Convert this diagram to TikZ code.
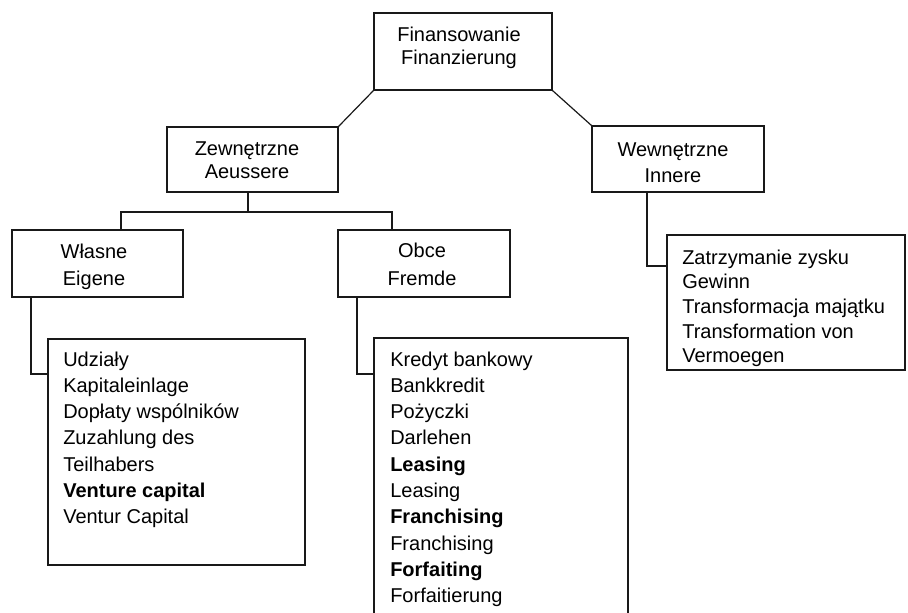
\documentclass[tikz,border=0pt]{standalone}
\usepackage{fontspec}
\setmainfont{Liberation Sans}
\begin{document}
\begin{tikzpicture}[x=0.75pt, y=-0.75pt,
  box/.style={draw=black!90, line width=0.9pt, inner sep=0pt, rectangle},
  conn/.style={draw=black!90, line width=0.9pt},
  lbl/.style={anchor=base, inner sep=0pt, font=\fontsize{15pt}{18pt}\selectfont},
  item/.style={anchor=base west, inner sep=0pt, font=\fontsize{15pt}{18pt}\selectfont}]
\useasboundingbox (0,0) rectangle (908,612);
\clip (0,0) rectangle (908,612);
% boxes
\node[box, minimum width=133.5pt, minimum height=57.75pt] (top) at (463,51.5) {};
\node[box, minimum width=128.25pt, minimum height=48.75pt] (zew) at (252.5,159.5) {};
\node[box, minimum width=129pt, minimum height=49.5pt] (wew) at (678,159) {};
\node[box, minimum width=128.25pt, minimum height=50.25pt] (wl) at (97.5,263.5) {};
\node[box, minimum width=129pt, minimum height=50.25pt] (ob) at (424,263.5) {};
\node[box, minimum width=192.75pt, minimum height=169.5pt] (lc) at (176.5,452) {};
\node[box, minimum width=190.5pt, minimum height=256.5pt] (oc) at (501,509) {};
\node[box, minimum width=178.5pt, minimum height=101.25pt] (wc) at (786,302.5) {};
% box titles
\node[lbl] (t1) at (459,41.7) {Finansowanie};
\node[lbl] (t2) at (459,64.3) {Finanzierung};
\node[lbl] (z1) at (247,155) {Zewnętrzne};
\node[lbl] (z2) at (247,178.3) {Aeussere};
\node[lbl] (w1) at (673,156.7) {Wewnętrzne};
\node[lbl] (w2) at (673,182.7) {Innere};
\node[lbl] (e1) at (94,258.3) {Własne};
\node[lbl] (e2) at (94,285.7) {Eigene};
\node[lbl] (o1) at (422,257.3) {Obce};
\node[lbl] (o2) at (422,285.7) {Fremde};
% content lists
\foreach \t [count=\i] in {Udziały, Kapitaleinlage, Dopłaty wspólników, Zuzahlung des, Teilhabers, \textbf{Venture capital}, Ventur Capital}
  \node[item] (lci\i) at (63,366+26.3*\i-26.3) {\t};
\foreach \t [count=\i] in {Kredyt bankowy, Bankkredit, Pożyczki, Darlehen, \textbf{Leasing}, Leasing, \textbf{Franchising}, Franchising, \textbf{Forfaiting}, Forfaitierung}
  \node[item] (oci\i) at (390,366+26.3*\i-26.3) {\t};
\foreach \t [count=\i] in {Zatrzymanie zysku, Gewinn, Transformacja majątku, Transformation von, Vermoegen}
  \node[item] (wci\i) at (682,264+24.7*\i-24.7) {\t};
% connectors
\coordinate (zb) at (248,212);
\coordinate (bl) at (121,212);
\coordinate (br) at (392,212);
\coordinate (wlc) at (31,374);
\coordinate (obc) at (357,374);
\coordinate (wwc) at (647,266);
\draw[conn] (top.south west) -- (zew.north east);
\draw[conn] (top.south east) -- (wew.north west);
\draw[conn] (zew.south -| zb) -- (zb);
\draw[conn] (bl |- wl.north) -- (bl) -- (br) -- (br |- ob.north);
\draw[conn] (wlc |- wl.south) -- (wlc) -- (wlc -| lc.west);
\draw[conn] (obc |- ob.south) -- (obc) -- (obc -| oc.west);
\draw[conn] (wwc |- wew.south) -- (wwc) -- (wwc -| wc.west);
\end{tikzpicture}
\end{document}
